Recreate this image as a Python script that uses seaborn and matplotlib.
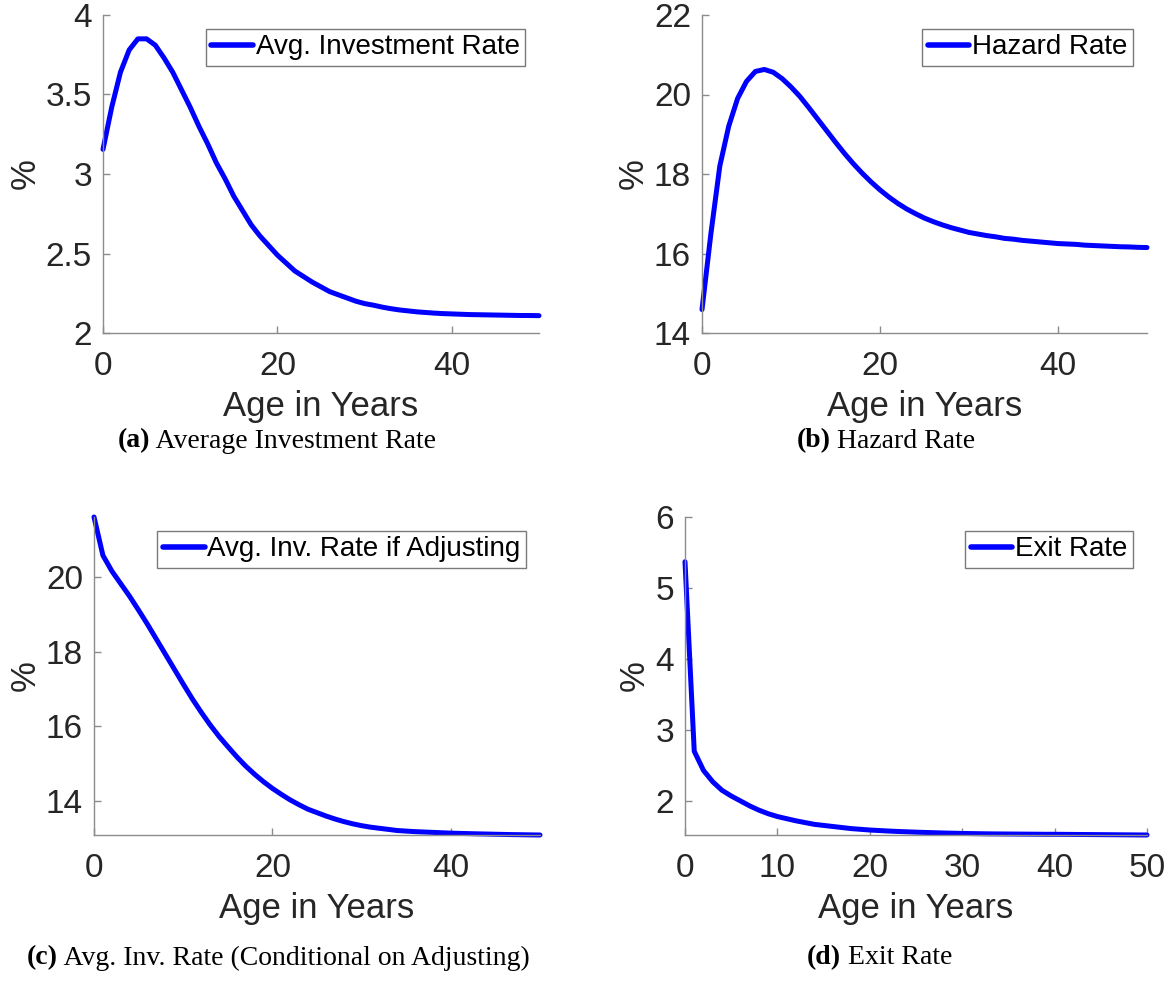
import numpy as np
import pandas as pd
import matplotlib
matplotlib.use("Agg")
import matplotlib.pyplot as plt
from matplotlib.ticker import FuncFormatter, FixedLocator
import seaborn as sns

# ---- data: life-cycle profiles by firm age (years 0..50), in percent ----
age = list(range(51))

avg_investment_rate = [
    3.155, 3.42, 3.64, 3.78, 3.85, 3.85, 3.81, 3.73, 3.64, 3.53,
    3.42, 3.30, 3.19, 3.07, 2.97, 2.86, 2.77, 2.68, 2.61, 2.55,
    2.49, 2.44, 2.39, 2.355, 2.32, 2.29, 2.26, 2.24, 2.22, 2.20,
    2.185, 2.175, 2.163, 2.153, 2.145, 2.139, 2.133, 2.129, 2.125, 2.122,
    2.12, 2.118, 2.116, 2.115, 2.114, 2.113, 2.112, 2.111, 2.110, 2.110,
    2.109,
]

hazard_rate = [
    14.59, 16.5, 18.2, 19.2, 19.9, 20.33, 20.58, 20.63, 20.56, 20.40,
    20.19, 19.95, 19.67, 19.38, 19.09, 18.80, 18.52, 18.26, 18.02, 17.80,
    17.60, 17.42, 17.26, 17.12, 17.00, 16.89, 16.80, 16.72, 16.65, 16.59,
    16.53, 16.49, 16.45, 16.42, 16.38, 16.36, 16.33, 16.31, 16.29, 16.27,
    16.25, 16.24, 16.23, 16.21, 16.20, 16.19, 16.18, 16.17, 16.165, 16.155,
    16.15,
]

inv_rate_if_adjusting = [
    21.61, 20.58, 20.16, 19.82, 19.48, 19.11, 18.73, 18.33, 17.93, 17.53,
    17.13, 16.74, 16.38, 16.04, 15.73, 15.45, 15.18, 14.93, 14.71, 14.51,
    14.33, 14.17, 14.02, 13.89, 13.77, 13.68, 13.59, 13.51, 13.44, 13.38,
    13.33, 13.29, 13.26, 13.23, 13.20, 13.185, 13.17, 13.16, 13.15, 13.14,
    13.13, 13.123, 13.117, 13.111, 13.106, 13.10, 13.095, 13.09, 13.087, 13.083,
    13.08,
]

exit_rate = [
    5.37, 2.70, 2.43, 2.27, 2.15, 2.07, 2.00, 1.93, 1.87, 1.82,
    1.78, 1.75, 1.72, 1.695, 1.67, 1.655, 1.64, 1.625, 1.61, 1.60,
    1.59, 1.583, 1.576, 1.57, 1.565, 1.56, 1.556, 1.552, 1.548, 1.545,
    1.542, 1.54, 1.538, 1.536, 1.535, 1.534, 1.533, 1.532, 1.531, 1.530,
    1.530, 1.529, 1.528, 1.527, 1.526, 1.525, 1.524, 1.523, 1.522, 1.521,
    1.520,
]

legend_labels = ["Avg. Investment Rate", "Hazard Rate",
                 "Avg. Inv. Rate if Adjusting", "Exit Rate"]
caption_tags = ["(a)", "(b)", "(c)", "(d)"]
caption_texts = ["Average Investment Rate", "Hazard Rate",
                 "Avg. Inv. Rate (Conditional on Adjusting)", "Exit Rate"]
x_label = "Age in Years"
y_label = "%"

xticks_wide = [0, 20, 40]
xticks_fine = [0, 10, 20, 30, 40, 50]
yticks = [[2, 2.5, 3, 3.5, 4], [14, 16, 18, 20, 22], [14, 16, 18, 20], [2, 3, 4, 5, 6]]

# ---- style ----
sns.set_theme(style="white")
plt.rcParams["font.family"] = ["Liberation Sans", "DejaVu Sans"]

W, H = 1174, 985
fig = plt.figure(figsize=(W / 100, H / 100), dpi=100)
fig.patch.set_facecolor("white")

def px_rect(left, top, right, bottom):
    return [left / W, 1 - bottom / H, (right - left) / W, (bottom - top) / H]

rects = [
    px_rect(103, 15, 539, 333),
    px_rect(702, 15, 1147, 333),
    px_rect(94, 517, 540, 835),
    px_rect(685, 517, 1147, 835),
]

series = [avg_investment_rate, hazard_rate, inv_rate_if_adjusting, exit_rate]
xticks_all = [xticks_wide, xticks_wide, xticks_wide, xticks_fine]

axis_grey = "#8c8c8c"
text_dark = "#262626"

for i, (rect, vals) in enumerate(zip(rects, series)):
    ax = fig.add_axes(rect)
    df = pd.DataFrame({"age": age, "value": vals, "series": legend_labels[i]})
    sns.lineplot(data=df, x="age", y="value", hue="series",
                 palette=["#0000ff"], linewidth=3.6, ax=ax, clip_on=False)

    ax.set_xlim(0, 50)
    if i == 0:
        ax.set_ylim(2, 4)
    elif i == 1:
        ax.set_ylim(14, 22)
    elif i == 2:
        ax.set_ylim(min(vals), max(vals))
    else:
        ax.set_ylim(min(vals), 6)

    ax.xaxis.set_major_locator(FixedLocator(xticks_all[i]))
    ax.yaxis.set_major_locator(FixedLocator(yticks[i]))
    ax.yaxis.set_major_formatter(FuncFormatter(lambda v, p: f"{v:g}"))
    ax.xaxis.set_major_formatter(FuncFormatter(lambda v, p: f"{v:g}"))

    for side in ["top", "right"]:
        ax.spines[side].set_visible(False)
    for side in ["left", "bottom"]:
        ax.spines[side].set_color(axis_grey)
        ax.spines[side].set_linewidth(1.0)

    ax.tick_params(axis="both", which="major", direction="in", length=5,
                   width=1.0, color=axis_grey, labelsize=24,
                   labelcolor=text_dark, bottom=True, left=True)
    ax.tick_params(axis="x", pad=13)
    ax.tick_params(axis="y", pad=8)

    ax.set_xlabel(x_label, fontsize=25, color=text_dark, labelpad=6)
    ax.set_ylabel(y_label, fontsize=25, color=text_dark, labelpad=3)

    leg = ax.legend(loc="upper right", fontsize=20, frameon=True,
                    fancybox=False, framealpha=1.0, edgecolor="#7a7a7a",
                    handlelength=1.5, handletextpad=0.1, borderpad=0.2,
                    borderaxespad=0.5)
    leg.get_frame().set_linewidth(1.0)
    for line in leg.get_lines():
        line.set_linewidth(4.0)
    for t in leg.get_texts():
        t.set_color("black")

# ---- panel captions: bold tag followed by regular text, centred per column ----
cap_centers = [(277, 441), (886, 441), (278, 958), (880, 958)]
renderer = fig.canvas.get_renderer()
for (cx, cy), tag, txt in zip(cap_centers, caption_tags, caption_texts):
    t1 = fig.text(0, 1 - cy / H, tag, fontsize=20, weight="bold",
                  family="Liberation Serif", color="black", va="center", ha="left")
    t2 = fig.text(0, 1 - cy / H, " " + txt, fontsize=20,
                  family="Liberation Serif", color="black", va="center", ha="left")
    w1 = t1.get_window_extent(renderer).width
    w2 = t2.get_window_extent(renderer).width
    left = cx - (w1 + w2) / 2
    t1.set_x(left / W)
    t2.set_x((left + w1) / W)

fig.savefig("out.png", dpi=100, facecolor="white")
